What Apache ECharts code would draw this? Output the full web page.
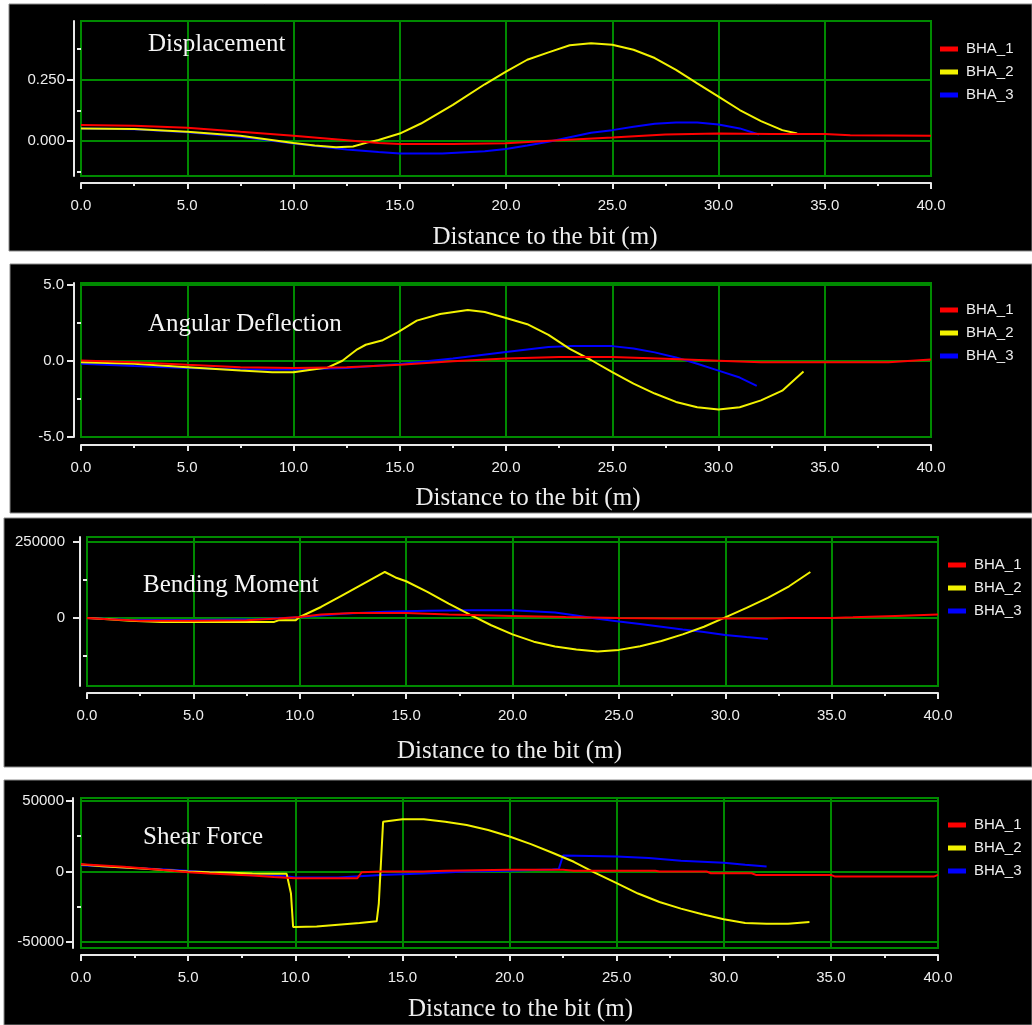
<!DOCTYPE html>
<html>
<head>
<meta charset="utf-8">
<script src="https://cdn.jsdelivr.net/npm/echarts@6/dist/echarts.min.js"></script>
<style>
html,body{margin:0;padding:0;background:#ffffff;}
#chart{width:1032px;height:1025px;}
</style>
</head>
<body>
<div id="chart"></div>
<script>
// ---------- data ----------
const seriesNames = ['BHA_1', 'BHA_2', 'BHA_3'];
const panelTitles = ['Displacement', 'Angular Deflection', 'Bending Moment', 'Shear Force'];
const xAxisTitle = 'Distance to the bit (m)';

// y tick labels (major) and unlabeled minor ticks, per panel
const yMajorTicks = [[0, 0.25], [-5, 0, 5], [0, 250000], [-50000, 0, 50000]];
const yMinorTicks = [[-0.125, 0.125, 0.375], [-2.5, 2.5], [-125000, 125000], [-25000, 25000]];
const yRanges = [[-0.142, 0.49], [-5, 5.1], [-223700, 266000], [-54200, 52100]];

// Displacement
const dispBHA1 = [[0,0.066],[2.5,0.063],[5,0.055],[7.5,0.038],[10,0.022],[12.5,0.004],[14,-0.007],[15,-0.012],[17.5,-0.012],[20,-0.008],[22.5,0.004],[25,0.015],[27.5,0.027],[30,0.031],[32.5,0.029],[35,0.029],[36.2,0.024],[40,0.022]];
const dispBHA2 = [[0,0.052],[2.5,0.05],[5,0.038],[7.5,0.022],[10,-0.007],[11,-0.018],[12,-0.025],[12.8,-0.022],[13.5,-0.005],[14,0.005],[15,0.031],[16,0.072],[17.5,0.148],[19,0.232],[20,0.284],[21,0.332],[22,0.362],[23,0.391],[24,0.399],[25,0.393],[26,0.373],[27,0.339],[28,0.291],[29,0.236],[30,0.182],[31,0.127],[32,0.082],[33,0.045],[33.7,0.031]];
const dispBHA3 = [[0,0.052],[2.5,0.049],[5,0.036],[7.5,0.018],[10,-0.01],[12.5,-0.034],[14,-0.044],[15,-0.05],[17,-0.05],[19,-0.041],[20,-0.032],[21,-0.018],[22,-0.002],[23,0.016],[24,0.034],[25,0.045],[26,0.059],[27,0.071],[28,0.076],[29,0.076],[30,0.068],[31,0.052],[31.9,0.027]];

// Angular deflection
const angBHA1 = [[0,0.02],[2.5,-0.09],[5,-0.26],[7.5,-0.42],[10,-0.48],[12.5,-0.42],[15,-0.26],[17.5,-0.04],[20,0.15],[22.5,0.24],[25,0.25],[27.5,0.13],[30,0.0],[32,-0.1],[38,-0.1],[40,0.08]];
const angBHA2 = [[0,-0.09],[2.5,-0.2],[5,-0.42],[7.5,-0.64],[9,-0.75],[10,-0.75],[11,-0.55],[11.6,-0.45],[12.3,0.0],[13,0.75],[13.4,1.05],[14.2,1.35],[14.9,1.86],[15.8,2.63],[16.9,3.07],[18.2,3.33],[19,3.2],[20,2.8],[21,2.4],[22,1.7],[23,0.78],[24,0.05],[25,-0.75],[26,-1.5],[27,-2.15],[28,-2.7],[29,-3.05],[30,-3.2],[31,-3.05],[32,-2.6],[33,-1.96],[34,-0.7]];
const angBHA3 = [[0,-0.2],[2.5,-0.35],[5,-0.48],[7.5,-0.57],[10,-0.57],[12.5,-0.48],[15,-0.22],[17.5,0.15],[20,0.58],[22,0.9],[23,0.96],[25,0.96],[26,0.8],[27,0.55],[28,0.22],[29,-0.2],[30,-0.65],[31,-1.1],[31.8,-1.65]];

// Bending moment
const bendBHA1 = [[0,0],[1,-4000],[2.5,-9000],[5,-9000],[7.5,-8000],[9,-2000],[10,3000],[11,11000],[12.5,16000],[15,16000],[17,11000],[20,6500],[22.5,3000],[25,0],[27.5,-2000],[32,-2000],[33,0],[35,0],[36,2000],[38,6500],[40,11000]];
const bendBHA2 = [[0,0],[1,-4000],[2,-9000],[3.5,-13000],[8.8,-13000],[9,-8000],[9.8,-8000],[10,3000],[11,36000],[12,74500],[13,113000],[14,151000],[14.5,133000],[15,120600],[16,85500],[17,47000],[18,11000],[19,-24000],[20,-54000],[21,-78000],[22,-94000],[23,-104000],[24,-110000],[25,-105000],[26,-93000],[27,-76000],[28,-54000],[29,-29000],[30,2000],[31,33000],[32,66000],[33,104000],[34,151000]];
const bendBHA3 = [[0,0],[2,-6500],[5,-6500],[8,-4000],[10,2000],[12,14000],[14,20000],[16,24000],[18,25000],[20,25000],[22,18000],[23,8000],[24,-3000],[25,-12000],[26,-20000],[27,-29000],[28,-38000],[29,-46000],[30,-56000],[31,-63000],[32,-69000]];

// Shear force
const shearBHA1 = [[0,5200],[2,3300],[4,950],[5,-500],[6,-1400],[7,-2100],[8,-2800],[9,-3800],[10,-4700],[12.9,-4700],[13.1,-500],[14,0],[16,0],[17,470],[20,1200],[22.5,1200],[23,500],[26.8,500],[27,0],[29.2,0],[29.4,-1200],[31.3,-1200],[31.5,-2400],[35,-2400],[35.2,-3600],[39.8,-3600],[40,-2400]];
const shearBHA2 = [[0,5000],[1,3800],[2,2800],[3,1900],[4,950],[5,0],[6,-500],[7,-950],[8,-1400],[9,-1650],[9.6,-1650],[9.8,-15600],[9.9,-39300],[10,-39300],[11,-38900],[12,-37700],[13,-36500],[13.8,-35300],[13.9,-22750],[14.1,35300],[15,37000],[16,37000],[17,35300],[18,32900],[19,29400],[20,24800],[21,19400],[22,13300],[23,6900],[24,-950],[25,-8200],[26,-15600],[27,-21600],[28,-26300],[29,-30300],[30,-33800],[31,-36500],[32,-37000],[33,-37000],[34,-35800]];
const shearBHA3 = [[0,4500],[2,2800],[4,1400],[6,-500],[8,-2600],[9.6,-3300],[10,-4300],[12,-4300],[13,-3300],[14,-2400],[16,-1400],[18,0],[20,470],[22,1400],[22.3,1800],[22.5,11400],[25,10700],[26.5,9500],[28,7600],[30,6200],[31,4800],[32,3600]];

const panelData = [
  [dispBHA1, dispBHA2, dispBHA3],
  [angBHA1, angBHA2, angBHA3],
  [bendBHA1, bendBHA2, bendBHA3],
  [shearBHA1, shearBHA2, shearBHA3]
];

// ---------- layout / style ----------
const seriesColors = ['#ff0000', '#f2f200', '#0000ff'];
const seriesZ = [5, 4, 3];
const gridColor = '#008a00';
const axisColor = '#e8e8e8';
const textColor = '#ededed';

const layout = [
  {panel:[9,4,1023,247],  grid:{left:81, top:21,  width:850, height:155}, yOff:7, xOff:7, yMargin:9,  title:[148,32],  nameGap:42, nameShift:39, legend:[940,41.5]},
  {panel:[10,264,1022,249],grid:{left:81, top:283, width:850, height:154}, yOff:7, xOff:8, yMargin:10, title:[148,312], nameGap:41, nameShift:22, legend:[940,302.5]},
  {panel:[4,518,1028,249], grid:{left:87, top:537, width:851, height:149}, yOff:7, xOff:7, yMargin:15, title:[143,573], nameGap:46, nameShift:-3, legend:[948,557.5]},
  {panel:[4,780,1028,245], grid:{left:81, top:798, width:857, height:150}, yOff:8, xOff:7, yMargin:9,  title:[143,825], nameGap:42, nameShift:11, legend:[948,817.5]}
];

const yFormatters = [
  v => v.toFixed(3),
  v => v.toFixed(1),
  v => String(v),
  v => String(v)
];

const grids = [], xAxes = [], yAxes = [], series = [], titles = [], legends = [], graphics = [];

layout.forEach((L, i) => {
  graphics.push({
    type: 'rect', z: -100,
    shape: {x: L.panel[0], y: L.panel[1], width: L.panel[2], height: L.panel[3]},
    style: {fill: '#000000', stroke: '#8a8a8a', lineWidth: 1}
  });
  grids.push(Object.assign({show: true, backgroundColor: 'transparent', borderColor: gridColor, borderWidth: 2, containLabel: false}, L.grid));

  xAxes.push({
    gridIndex: i, type: 'value', position: 'bottom', min: 0, max: 40, interval: 5, offset: L.xOff,
    axisLine: {show: true, onZero: false, lineStyle: {color: axisColor, width: 2}},
    axisTick: {show: true, length: 6, lineStyle: {color: axisColor, width: 2}},
    minorTick: {show: true, splitNumber: 2, length: 3, lineStyle: {color: axisColor, width: 2}},
    axisLabel: {formatter: v => v.toFixed(1), color: textColor, fontSize: 15, fontFamily: 'Liberation Sans', margin: 15},
    splitLine: {show: true, lineStyle: {color: gridColor, width: 2}},
    name: xAxisTitle, nameLocation: 'middle', nameGap: L.nameGap,
    nameTextStyle: {color: textColor, fontSize: 25, fontFamily: 'Liberation Serif',
      padding: L.nameShift >= 0 ? [0, 0, 0, 2 * L.nameShift] : [0, -2 * L.nameShift, 0, 0]}
  });

  const yr = yRanges[i];
  yAxes.push({
    gridIndex: i, type: 'value', position: 'left', min: yr[0], max: yr[1], offset: L.yOff,
    axisLine: {show: true, onZero: false, lineStyle: {color: axisColor, width: 2}},
    axisTick: {show: true, customValues: yMajorTicks[i], length: 7, lineStyle: {color: axisColor, width: 2}},
    axisLabel: {customValues: yMajorTicks[i], formatter: yFormatters[i], color: textColor, fontSize: 15, fontFamily: 'Liberation Sans', margin: L.yMargin},
    splitLine: {show: false}
  });
  yAxes.push({
    gridIndex: i, type: 'value', position: 'left', min: yr[0], max: yr[1], offset: L.yOff,
    axisLine: {show: false},
    axisTick: {show: true, customValues: yMinorTicks[i], length: 4, lineStyle: {color: axisColor, width: 2}},
    axisLabel: {show: false},
    splitLine: {show: false}
  });

  panelData[i].forEach((d, k) => {
    const s = {
      name: seriesNames[k], type: 'line', xAxisIndex: i, yAxisIndex: 2 * i,
      data: d, showSymbol: false, symbol: 'none', z: seriesZ[k],
      color: seriesColors[k],
      lineStyle: {color: seriesColors[k], width: 2},
      animation: false
    };
    if (k === 0) {
      s.markLine = {
        silent: true, z: 1, symbol: ['none', 'none'], animation: false,
        label: {show: false},
        lineStyle: {color: gridColor, width: 2, type: 'solid'},
        emphasis: {disabled: true},
        data: yMajorTicks[i].map(v => ({yAxis: v}))
      };
    }
    series.push(s);
  });

  titles.push({
    text: panelTitles[i], left: L.title[0], top: L.title[1], padding: 0,
    textStyle: {color: '#f4f4f4', fontSize: 25, fontWeight: 'normal', fontFamily: 'Liberation Serif'}
  });

  legends.push({
    data: seriesNames, orient: 'vertical', left: L.legend[0], top: L.legend[1], padding: 0,
    itemWidth: 18, itemHeight: 5, itemGap: 8, icon: 'rect', selectedMode: false,
    textStyle: {color: textColor, fontSize: 15, fontFamily: 'Liberation Sans', padding: [0, 0, 0, 3]}
  });
});

const chart = echarts.init(document.getElementById('chart'), null, {renderer: 'canvas'});
chart.setOption({
  animation: false,
  backgroundColor: '#ffffff',
  graphic: {elements: graphics},
  title: titles,
  legend: legends,
  grid: grids,
  xAxis: xAxes,
  yAxis: yAxes,
  series: series
});
</script>
</body>
</html>
